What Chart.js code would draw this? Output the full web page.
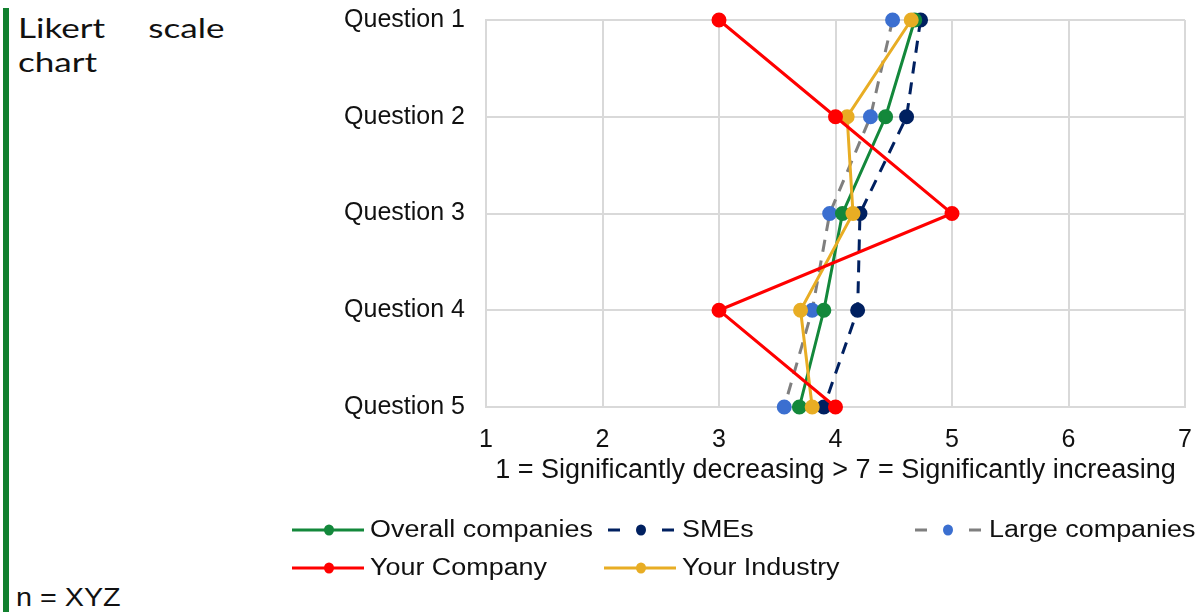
<!DOCTYPE html>
<html>
<head>
<meta charset="utf-8">
<script src="https://cdn.jsdelivr.net/npm/chart.js@4.4.1/dist/chart.umd.min.js"></script>
<style>
  html, body { margin: 0; padding: 0; background: #fff; }
  #wrap { position: relative; width: 1200px; height: 612px; overflow: hidden; }
  #bar { position: absolute; left: 3px; top: 8px; width: 6px; height: 604px; background: #11802f; }
  #heading {
    position: absolute; left: 18px; top: 11px; width: 153px;
    font-family: "Lato", "Open Sans", sans-serif; font-size: 26px; line-height: 34px;
    color: #111; text-align: justify; text-align-last: left;
    transform: scaleX(1.35); transform-origin: 0 0;
  }
  #note {
    position: absolute; left: 16px; top: 583px;
    font-family: "Liberation Sans", Arial, sans-serif; font-size: 25px; color: #111;
    transform: scaleX(1.15); transform-origin: 0 0;
  }
  #stage { position: absolute; left: 0; top: 0; }
</style>
</head>
<body>
<div id="wrap">
  <div id="bar"></div>
  <div id="heading">Likert scale chart</div>
  <div id="note">n = XYZ</div>
  <canvas id="stage" width="1200" height="612"></canvas>
</div>
<script>
// 設問ラベルと各系列の平均値（1〜7段階）
const questions = ['Question 1', 'Question 2', 'Question 3', 'Question 4', 'Question 5'];
const overall   = [4.68, 4.43, 4.06, 3.90, 3.69];
const smes      = [4.73, 4.61, 4.21, 4.19, 3.90];
const large     = [4.49, 4.30, 3.95, 3.80, 3.56];
const yourCompany  = [3.0, 4.0, 5.0, 3.0, 4.0];
const yourIndustry = [4.65, 4.10, 4.15, 3.70, 3.80];
const scaleTicks = [1, 2, 3, 4, 5, 6, 7];
const axisTitle = '1 = Significantly decreasing > 7 = Significantly increasing';

const fontFamily = '"Liberation Sans", Arial, sans-serif';

function series(label, data, line, point, dash, order){
    return {
        label: label,
        data: data,
        borderColor: line,
        backgroundColor: point,
        pointBackgroundColor: point,
        pointBorderColor: point,
        borderWidth: 3,
        borderDash: dash,
        pointRadius: 6,
        pointHoverRadius: 6,
        tension: 0,
        order: order
    };
}

// 凡例を2行3列で描くプラグイン
const gridLegend = {
    id: 'gridLegend',
    afterDraw(c){
        const ctx = c.ctx;
        const cols = [292, 604, 911];
        const rows = [530, 568];
        c.data.datasets.forEach(function(ds, i){
            const x = cols[i % 3], y = rows[Math.floor(i / 3)];
            ctx.save();
            ctx.strokeStyle = ds.borderColor;
            ctx.lineWidth = 3;
            ctx.beginPath();
            if (ds.borderDash.length) {
                ctx.moveTo(x + 4, y); ctx.lineTo(x + 16, y);
                ctx.moveTo(x + 58, y); ctx.lineTo(x + 70, y);
            } else {
                ctx.moveTo(x, y); ctx.lineTo(x + 72, y);
            }
            ctx.stroke();
            ctx.fillStyle = ds.pointBackgroundColor;
            ctx.beginPath();
            ctx.ellipse(x + 37, y, 5, 5.5, 0, 0, Math.PI * 2);
            ctx.fill();
            // 文字は横に少し伸ばして描く
            ctx.translate(x + 78, y + 1);
            ctx.scale(1.17, 1);
            ctx.fillStyle = '#111';
            ctx.font = '23px ' + fontFamily;
            ctx.textBaseline = 'middle';
            ctx.fillText(ds.label, 0, 0);
            ctx.restore();
        });
    }
};

const chartData = {
    labels: questions,
    datasets: [
        series('Overall companies', overall, '#13883b', '#13883b', [], 3),
        series('SMEs', smes, '#002060', '#002060', [12, 9], 4),
        series('Large companies', large, '#7f7f7f', '#3b6fd0', [12, 9], 5),
        series('Your Company', yourCompany, '#ff0000', '#ff0000', [], 1),
        series('Your Industry', yourIndustry, '#e8ad24', '#e8ad24', [], 2)
    ]
};

const myChartOption = {
    responsive: false,
    animation: false,
    indexAxis: 'y',
    layout: { padding: { top: 20, right: 15, bottom: 125, left: 0 } },
    plugins: {
        legend: { display: false },
        tooltip: { enabled: false }
    },
    scales: {
        x: {
            type: 'linear',
            min: 1,
            max: 7,
            afterBuildTicks: function(scale){
                scale.ticks = scaleTicks.map(function(v){ return { value: v }; });
            },
            afterFit: function(scale){
                scale.height = 80;
                scale.paddingLeft = 0;
                scale.paddingRight = 0;
            },
            grid: { color: '#d9d9d9', lineWidth: 2, drawTicks: false },
            border: { color: '#d9d9d9', width: 2 },
            ticks: { color: '#111', font: { family: fontFamily, size: 25 }, padding: 18 },
            title: { display: true, text: axisTitle, color: '#111', font: { family: fontFamily, size: 27 }, padding: { top: 4, bottom: 0 } }
        },
        y: {
            type: 'category',
            offset: false,
            afterFit: function(scale){
                scale.width = 486;
                scale.paddingTop = 0;
                scale.paddingBottom = 0;
            },
            grid: { color: '#d9d9d9', lineWidth: 2, drawTicks: false },
            border: { color: '#d9d9d9', width: 2 },
            ticks: { color: '#111', font: { family: fontFamily, size: 25 }, padding: 21 }
        }
    }
};

new Chart(document.getElementById('stage'), {
    type: 'line',
    data: chartData,
    options: myChartOption,
    plugins: [gridLegend]
});
</script>
</body>
</html>
